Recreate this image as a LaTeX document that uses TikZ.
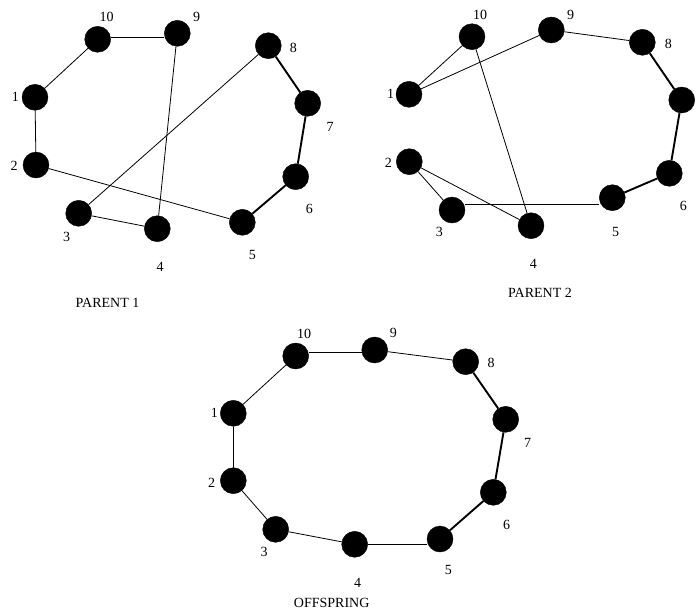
\documentclass[tikz,border=0pt]{standalone}
\usepackage{fontspec}
\setmainfont{Liberation Serif}
\begin{document}
\begin{tikzpicture}[x=1pt,y=-1pt,
  city/.style={circle,fill=black,draw=black,minimum size=26pt,inner sep=0pt},
  lbl/.style={font=\fontsize{14}{16}\selectfont,inner sep=0pt},
  ttl/.style={font=\fontsize{14}{16}\selectfont,inner sep=0pt},
  thin/.style={line width=0.8pt},
  bold/.style={line width=1.9pt}]
\useasboundingbox (0,0) rectangle (699,611);
% ---------- PARENT 1 ----------
\node[city] (a1) at (35,97.3) {};
\node[city] (a2) at (36,165) {};
\node[city] (a3) at (78.7,213.3) {};
\node[city] (a4) at (157.3,228.7) {};
\node[city] (a5) at (242.3,222.3) {};
\node[city] (a6) at (295.7,176.7) {};
\node[city] (a7) at (307.7,103.3) {};
\node[city] (a8) at (268.3,45.7) {};
\node[city] (a9) at (177.3,33.3) {};
\node[city] (a10) at (97.7,39.3) {};
\node[lbl] (la1) at (15.5,97.3) {1};
\node[lbl] (la2) at (14,165.7) {2};
\node[lbl] (la3) at (66.7,236.7) {3};
\node[lbl] (la4) at (160,266.7) {4};
\node[lbl] (la5) at (252.3,255) {5};
\node[lbl] (la6) at (309.3,209.3) {6};
\node[lbl] (la7) at (330,126.7) {7};
\node[lbl] (la8) at (293.3,47.7) {8};
\node[lbl] (la9) at (196.7,17.3) {9};
\node[lbl] (la10) at (106.7,17.3) {10};
\node[ttl] (ta) at (107.5,302.7) {PARENT 1};
\draw[thin] (a1) -- (a10);
\draw[thin] ([yshift=2pt]a10.east) -- ([yshift=-4pt]a9.west);
\draw[thin] (a9) -- (a4);
\draw[thin] (a1) -- (a2);
\draw[thin] (a2) -- (a5);
\draw[thin] (a3) -- (a4);
\draw[thin] (a3) -- (a8);
\draw[bold] (a8) -- (a7);
\draw[bold] (a7) -- (a6);
\draw[bold] (a6) -- (a5);
% ---------- PARENT 2 ----------
\node[city] (b1) at (409,94.3) {};
\node[city] (b2) at (409.3,161.7) {};
\node[city] (b3) at (452,210) {};
\node[city] (b4) at (531,225.7) {};
\node[city] (b5) at (612.3,197.7) {};
\node[city] (b6) at (669.3,173.3) {};
\node[city] (b7) at (681.7,100) {};
\node[city] (b8) at (642.3,42.3) {};
\node[city] (b9) at (551.3,30) {};
\node[city] (b10) at (472,36.7) {};
\node[lbl] (lb1) at (390.7,94.3) {1};
\node[lbl] (lb2) at (388.3,163.3) {2};
\node[lbl] (lb3) at (439.3,232.3) {3};
\node[lbl] (lb4) at (533.3,264.3) {4};
\node[lbl] (lb5) at (615.7,232.3) {5};
\node[lbl] (lb6) at (683.3,205.7) {6};
\node[lbl] (lb8) at (668.3,44.3) {8};
\node[lbl] (lb9) at (570.7,15) {9};
\node[lbl] (lb10) at (480,15) {10};
\node[ttl] (tb) at (540,293.3) {PARENT 2};
\draw[thin] (b1) -- (b10);
\draw[thin] (b1) -- (b9);
\draw[thin] (b9) -- (b8);
\draw[bold] (b8) -- (b7);
\draw[bold] (b7) -- (b6);
\draw[bold] (b6) -- (b5);
\draw[thin] ([yshift=6pt]b3.east) -- ([yshift=-6.3pt]b5.west);
\draw[thin] (b2) -- (b3);
\draw[thin] (b2) -- (b4);
\draw[thin] (b10) -- (b4);
% ---------- OFFSPRING ----------
\node[city] (c1) at (233.3,413.3) {};
\node[city] (c2) at (233.3,480.7) {};
\node[city] (c3) at (275.7,529.3) {};
\node[city] (c4) at (354.7,544.3) {};
\node[city] (c5) at (440,539) {};
\node[city] (c6) at (493.3,492.3) {};
\node[city] (c7) at (505.7,419.3) {};
\node[city] (c8) at (465.7,361.7) {};
\node[city] (c9) at (374.7,350) {};
\node[city] (c10) at (295.7,356) {};
\node[lbl] (lc1) at (214.3,413.3) {1};
\node[lbl] (lc2) at (211.7,482.7) {2};
\node[lbl] (lc3) at (264,552.3) {3};
\node[lbl] (lc4) at (357.7,583.3) {4};
\node[lbl] (lc5) at (448.3,570) {5};
\node[lbl] (lc6) at (506.7,525) {6};
\node[lbl] (lc7) at (527.7,442.7) {7};
\node[lbl] (lc8) at (491,363.3) {8};
\node[lbl] (lc9) at (393.3,333.3) {9};
\node[lbl] (lc10) at (304,334) {10};
\node[ttl] (tc) at (331.7,603.3) {OFFSPRING};
\draw[thin] (c1) -- (c2);
\draw[thin] (c2) -- (c3);
\draw[thin] (c3) -- (c4);
\draw[thin] (c4.east) -- ([yshift=-5.3pt]c5.west);
\draw[bold] (c5) -- (c6);
\draw[bold] (c6) -- (c7);
\draw[bold] (c7) -- (c8);
\draw[thin] (c8) -- (c9);
\draw[thin] ([yshift=3.7pt]c10.east) -- ([yshift=-2.3pt]c9.west);
\draw[thin] (c10) -- (c1);
\end{tikzpicture}
\end{document}
